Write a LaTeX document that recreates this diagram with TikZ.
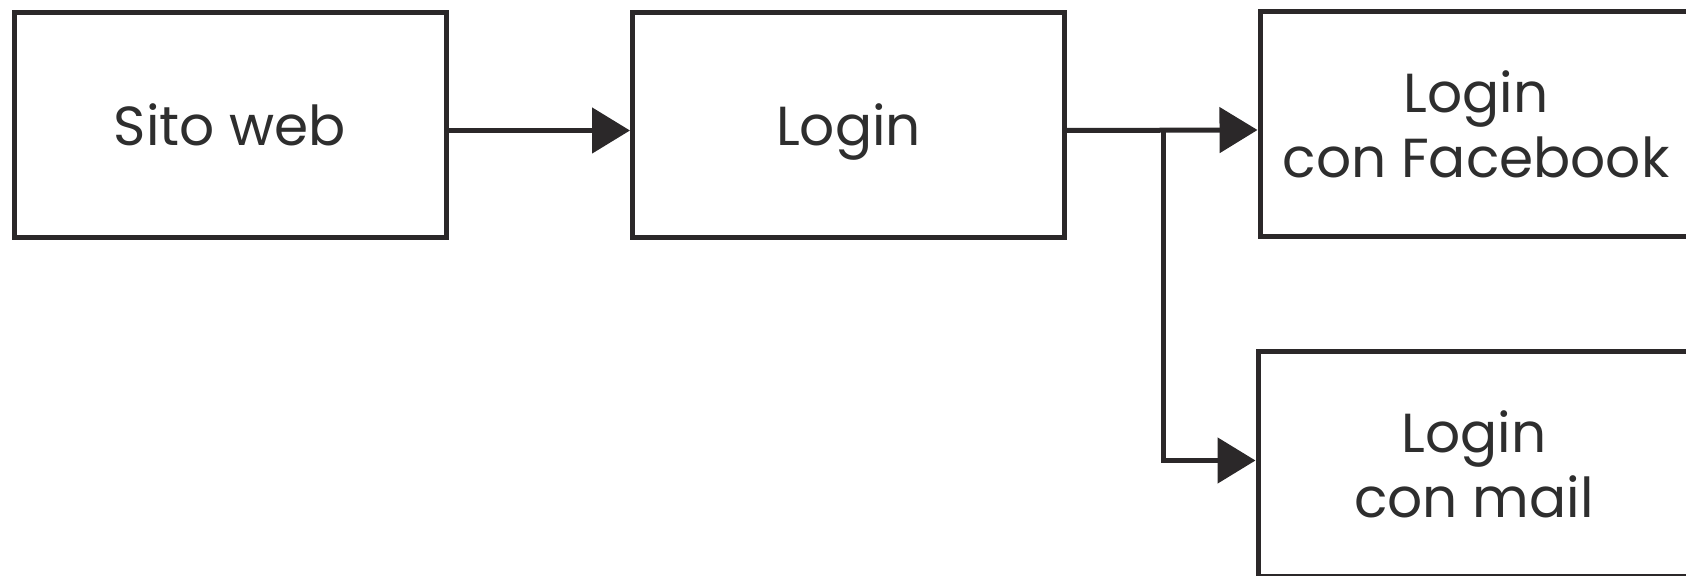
\documentclass[tikz,border=0pt]{standalone}
\usepackage{fontspec}
\setmainfont{Poppins}
\usetikzlibrary{arrows.meta}
\definecolor{boxline}{HTML}{2B2829}
\definecolor{labeltext}{HTML}{2E2E2E}
\tikzset{
	page/.style={x=0.5pt, y=-0.5pt},
	stepbox/.style={
			draw=boxline, line width=2.5pt, fill=white,
			minimum width=216pt, minimum height=112.5pt, inner sep=0pt,
			align=center, text=labeltext,
			font=\fontsize{27.5}{32.5}\selectfont
		},
	oneline/.style={text depth=0pt},
	flow/.style={
			draw=boxline, line width=2.5pt,
			-{Triangle[length=19pt,width=22.5pt]}
		}
}
\begin{document}
\begin{tikzpicture}[page]
		\useasboundingbox (0,0) rectangle (1686,576);

		% Web site and login page
		\node[stepbox, oneline] (sito) at (230,125) {Sito web};
		\node[stepbox, oneline] (login) at (848.5,125) {Login};

		% Login choices
		\node[stepbox] (facebook) at (1476,124.5) {Login\\con Facebook};
		\node[stepbox] (mail) at (1474,464.5) {Login\\con mail};

		% Connectors
		\draw[flow] ([yshift=-2.75pt]sito.east) -- ([yshift=-2.75pt]login.west);
		\coordinate (split) at (1163,130.5);
		\draw[flow] ([yshift=-2.75pt]login.east) -- ([yshift=-2.75pt]facebook.west);
		\draw[flow] (split) |- ([yshift=2pt]mail.west);
	\end{tikzpicture}
\end{document}
